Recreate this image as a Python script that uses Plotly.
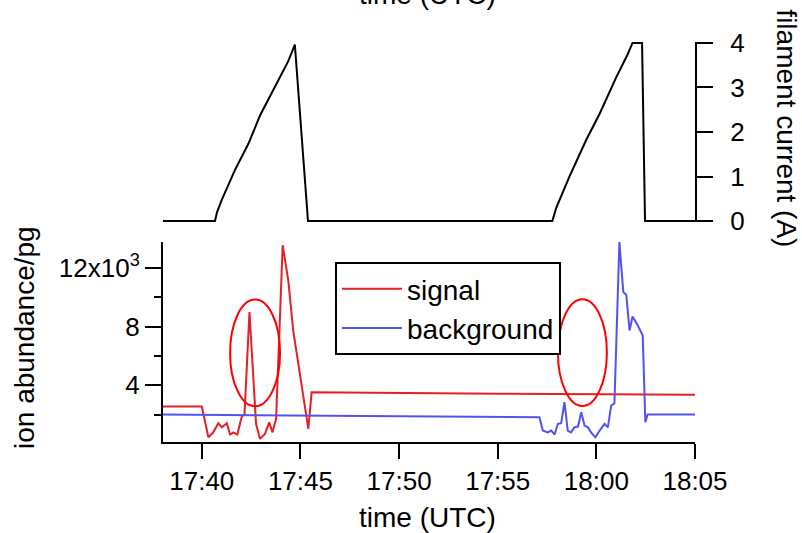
import plotly.graph_objects as go

DAY = "2016-01-01 "

# ---- data ----
filament_time = ["17:38:02", "17:40:40", "17:40:46", "17:41:01", "17:41:41", "17:42:22",
                 "17:42:57", "17:43:28", "17:43:58", "17:44:23", "17:44:43", "17:45:23",
                 "17:57:46", "17:57:58", "17:58:38", "17:59:29", "18:00:10", "18:01:00",
                 "18:01:35", "18:01:50", "18:02:19", "18:02:28", "18:05:00"]
filament_current = [0, 0, 0.19, 0.48, 1.15, 1.74,
                    2.37, 2.82, 3.26, 3.59, 3.96, 0,
                    0, 0.30, 1.0, 1.82, 2.41, 3.22,
                    3.74, 4.0, 4.0, 0, 0]

signal_time = ["17:38:02", "17:40:00", "17:40:20", "17:40:35", "17:40:50", "17:41:01",
               "17:41:16", "17:41:26", "17:41:36", "17:41:48", "17:42:01", "17:42:10",
               "17:42:25", "17:42:45", "17:42:57", "17:43:12", "17:43:25", "17:43:35",
               "17:43:46", "17:44:06", "17:44:23", "17:44:38", "17:45:24", "17:45:34",
               "17:55:06", "18:05:00"]
signal_value = [2550, 2550, 450, 790, 1410, 1130,
                1410, 640, 790, 640, 1820, 2050,
                8980, 1370, 340, 680, 1470, 790,
                1710, 13540, 11150, 7730, 1020, 3520,
                3420, 3350]

background_time = ["17:38:02", "17:55:06", "17:57:07", "17:57:17", "17:57:32", "17:57:43",
                   "17:57:53", "17:58:03", "17:58:13", "17:58:23", "17:58:33", "17:58:43",
                   "17:58:53", "17:59:04", "17:59:14", "17:59:24", "17:59:34", "17:59:44",
                   "17:59:57", "18:00:10", "18:00:25", "18:00:35", "18:00:45", "18:00:55",
                   "18:01:10", "18:01:22", "18:01:31", "18:01:41", "18:01:50", "18:02:06",
                   "18:02:21", "18:02:29", "18:02:36", "18:05:00"]
background_value = [2000, 1880, 1820, 910, 790, 910,
                    640, 1370, 1410, 2840, 910, 790,
                    1130, 1180, 2160, 1250, 1130, 790,
                    450, 910, 1370, 1130, 2610, 2770,
                    13750, 10350, 10170, 7730, 8690, 8080,
                    7390, 1470, 2000, 2000]

x_tick_times = ["17:40", "17:45", "17:50", "17:55", "18:00", "18:05"]
y_tick_vals = [4000, 8000, 12000]
y_tick_text = ["4", "8", "12x10<sup>3</sup>"]
y_minor_vals = [2000, 6000, 10000]
current_ticks = [0, 1, 2, 3, 4]

# highlighted regions (time from, time to, value from, value to)
ellipses = [("17:41:26", "17:43:58", 2563, 9836),
            ("17:58:03", "18:00:32", 2583, 9864)]

FONT = "Arial, Liberation Sans, sans-serif"
RED = "rgb(228,32,38)"
BLUE = "rgb(82,82,240)"

def ts(lst):
    return [DAY + t for t in lst]

fig = go.Figure()
fig.add_trace(go.Scatter(x=ts(filament_time), y=filament_current, mode="lines",
                         line=dict(color="black", width=2), xaxis="x2", yaxis="y2",
                         showlegend=False))
fig.add_trace(go.Scatter(x=ts(signal_time), y=signal_value, mode="lines", name="signal",
                         line=dict(color=RED, width=2), xaxis="x", yaxis="y"))
fig.add_trace(go.Scatter(x=ts(background_time), y=background_value, mode="lines",
                         name="background", line=dict(color=BLUE, width=2),
                         xaxis="x", yaxis="y"))

for (t0, t1, v0, v1) in ellipses:
    fig.add_shape(type="circle", xref="x", yref="y", x0=DAY + t0, x1=DAY + t1,
                  y0=v0, y1=v1, line=dict(color="red", width=2))

xrange = [DAY + "17:38:02", DAY + "18:05:00"]

fig.update_layout(
    width=802, height=533,
    margin=dict(l=163, r=107, t=42, b=91),
    paper_bgcolor="white", plot_bgcolor="white",
    font=dict(family=FONT, color="black", size=26),
    xaxis=dict(domain=[0, 1], anchor="y", range=xrange, type="date",
               tickmode="array", tickvals=[DAY + t for t in x_tick_times],
               ticktext=x_tick_times,
               showline=True, linecolor="black", linewidth=2,
               ticks="outside", ticklen=15, tickwidth=2, tickcolor="black",
               showgrid=False, zeroline=False, tickfont=dict(size=26)),
    xaxis2=dict(domain=[0, 1], anchor="y2", range=xrange, type="date", matches="x",
                visible=False, showgrid=False, zeroline=False),
    yaxis=dict(domain=[0, 0.5], anchor="x", range=[130, 13763],
               tickmode="array", tickvals=y_tick_vals, ticktext=y_tick_text,
               showline=True, linecolor="black", linewidth=2,
               ticks="outside", ticklen=16, tickwidth=2, tickcolor="black",
               minor=dict(tickmode="array", tickvals=y_minor_vals, ticks="outside",
                          ticklen=7, tickwidth=2, tickcolor="black", showgrid=False),
               showgrid=False, zeroline=False, tickfont=dict(size=26)),
    yaxis2=dict(domain=[0.55, 1], anchor="x2", side="right", range=[-0.02, 4.02],
                tickmode="array", tickvals=current_ticks,
                showline=True, linecolor="black", linewidth=2,
                ticks="outside", ticklen=16, tickwidth=2, tickcolor="black",
                ticklabelstandoff=12,
                showgrid=False, zeroline=False, tickfont=dict(size=26)),
    legend=dict(x=0.3233, y=0.45, xanchor="left", yanchor="top",
                bgcolor="white", bordercolor="black", borderwidth=2,
                font=dict(size=28), itemwidth=60, tracegroupgap=0),
    annotations=[
        dict(text="ion abundance/pg", xref="paper", yref="paper", x=-0.2613, y=0.2625,
             xanchor="center", yanchor="middle", textangle=-90, showarrow=False,
             font=dict(size=28)),
        dict(text="filament current (A)", xref="paper", yref="paper", x=1.173, y=0.784,
             xanchor="center", yanchor="middle", textangle=90, showarrow=False,
             font=dict(size=28)),
        dict(text="time (UTC)", xref="paper", yref="paper", x=0.498, y=-0.1875,
             xanchor="center", yanchor="middle", showarrow=False, font=dict(size=28)),
        dict(text="time (UTC)", xref="paper", yref="paper", x=0.498, y=1.118,
             xanchor="center", yanchor="middle", showarrow=False, font=dict(size=28)),
    ],
)

fig.write_html("out.html")
